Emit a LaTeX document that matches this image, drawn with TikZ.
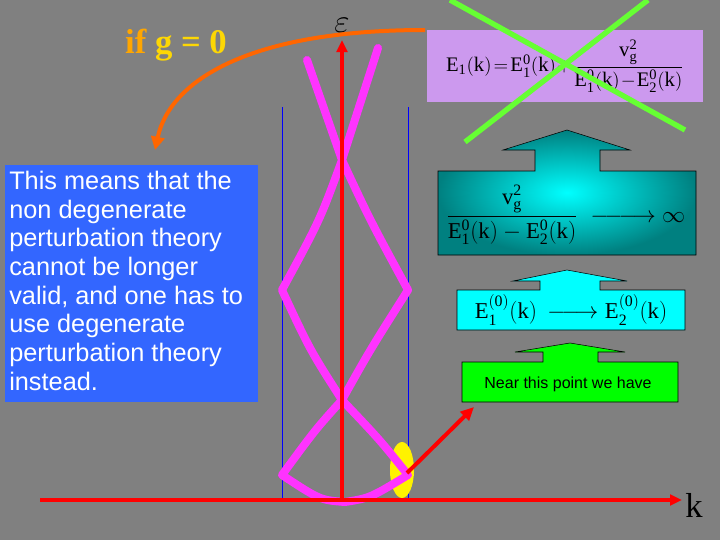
\documentclass[tikz,border=0pt]{standalone}
\usepackage{amsmath}
\usepackage{fontspec}
\setsansfont{Liberation Sans}
\setmainfont{Liberation Serif}
\usetikzlibrary{arrows.meta,shapes.geometric}
\definecolor{bg}{HTML}{808080}
\definecolor{mag}{HTML}{FF33FF}
\definecolor{lbox}{HTML}{3366FF}
\definecolor{purp}{HTML}{CC99EE}
\definecolor{tealc}{HTML}{008080}
\definecolor{cyn}{HTML}{00FFFF}
\definecolor{grn}{HTML}{00FF00}
\definecolor{xgrn}{HTML}{66FF33}
\definecolor{orng}{HTML}{FF6600}
\begin{document}
\begin{tikzpicture}[x=0.75pt,y=-0.75pt,
  axis/.style={red,line width=3pt,-{Triangle[length=9pt,width=8pt]}},
  band/.style={mag,line width=6pt,line join=round,line cap=round},
  vline/.style={blue,line width=0.6pt},
  formula/.style={inner sep=0pt,font=\fontsize{17}{20}\selectfont}]
\fill[bg] (0,0) rectangle (720,540);
\useasboundingbox (0,0) rectangle (720,540);
% blue verticals
\draw[vline] (282,107) -- (282,500);
\draw[vline] (408,107) -- (408,500);
% yellow ellipse
\fill[yellow] (402,470) ellipse [x radius=12, y radius=28];
% magenta bands
\draw[band] (307,60) -- (342,160) .. controls (370,220) .. (408,290) .. controls (370,350) .. (342,400) .. controls (315,430) .. (282,475) .. controls (320,500) .. (345,502) .. controls (370,498) .. (408,475) .. controls (380,440) .. (342,400) .. controls (310,350) .. (282,290) .. controls (320,220) .. (342,160) -- (378,48);
% axes
\coordinate (k0) at (40,500); \coordinate (k1) at (682,500);
\coordinate (e0) at (342,500); \coordinate (e1) at (342,40);
\draw[axis] (k0) -- (k1);
\draw[axis] (e0) -- (e1);
\node (k) at (694,505) {\fontsize{26}{28}\selectfont k};
\node[inner sep=0pt] (eps) at (342,25) {\fontsize{24}{26}\selectfont$\varepsilon$};
% if g=0
\node (ifg) at (176,45) {\fontsize{26}{28}\selectfont\bfseries\textcolor{orange!70!yellow}{if} \textcolor{yellow!75!orange}{g = 0}};
% left box
\fill[lbox] (5,165) rectangle (258,402);
\node[anchor=north west,text=white,align=left,font=\sffamily\fontsize{19}{21.5}\selectfont,inner sep=0pt] (lt) at (9,171) {This means that the\\non degenerate\\perturbation theory\\cannot be longer\\valid, and one has to\\use degenerate\\perturbation theory\\instead.};
% orange arc
\coordinate (oa) at (425,30);
\draw[orng,line width=3pt,-{Triangle[length=10pt,width=10pt]}] (oa) .. controls (250,30) and (170,80) .. (155,150);
% purple box
\fill[purp] (427,30) rectangle (703,102);
\node[formula,font=\fontsize{15.5}{19}\selectfont] (f1) at (565,66) {$\mathrm{E_1(k)\!=\!E_1^0(k)\!+\!\dfrac{v_g^2}{E_1^0(k)\!-\!E_2^0(k)}}$};
% green X
\draw[xgrn,line width=4pt] (450,0) -- (685,130);
\draw[xgrn,line width=4pt] (465,142) -- (648,0);
% teal block
\shade[inner color=cyn,outer color=tealc] (438,171) -- (535,171) -- (535,150) -- (503,150) -- (567,130) -- (630,150) -- (600,150) -- (600,171) -- (696,171) -- (696,255) -- (438,255) -- cycle;
\draw[black] (438,171) -- (535,171) -- (535,150) -- (503,150) -- (567,130) -- (630,150) -- (600,150) -- (600,171) -- (696,171) -- (696,255) -- (438,255) -- cycle;
\node[formula,anchor=west] (f2) at (446,215) {$\mathrm{\dfrac{v_g^2}{E_1^0(k) - E_2^0(k)}\;\relbar\joinrel\relbar\joinrel\relbar\joinrel\rightarrow\infty}$};
% cyan block
\filldraw[fill=cyn,draw=black] (457,290) -- (540,290) -- (540,281) -- (513,281) -- (567,270) -- (627,281) -- (600,281) -- (600,290) -- (685,290) -- (685,330) -- (457,330) -- cycle;
\node[formula] (f3) at (571,310) {$\mathrm{E_1^{(0)}(k)\,\relbar\joinrel\relbar\joinrel\rightarrow E_2^{(0)}(k)}$};
% green block
\filldraw[fill=grn,draw=black] (462,362) -- (543,362) -- (543,352) -- (515,352) -- (570,343) -- (625,352) -- (598,352) -- (598,362) -- (678,362) -- (678,402) -- (462,402) -- cycle;
\node[font=\sffamily\fontsize{12}{14}\selectfont] (nt) at (568,384) {Near this point we have};
% red arrow
\coordinate (p0) at (407,473); \coordinate (p1) at (474,407);
\draw[red,line width=3pt,-{Triangle[length=10pt,width=9pt]}] (p0) -- (p1);
\end{tikzpicture}
\end{document}
